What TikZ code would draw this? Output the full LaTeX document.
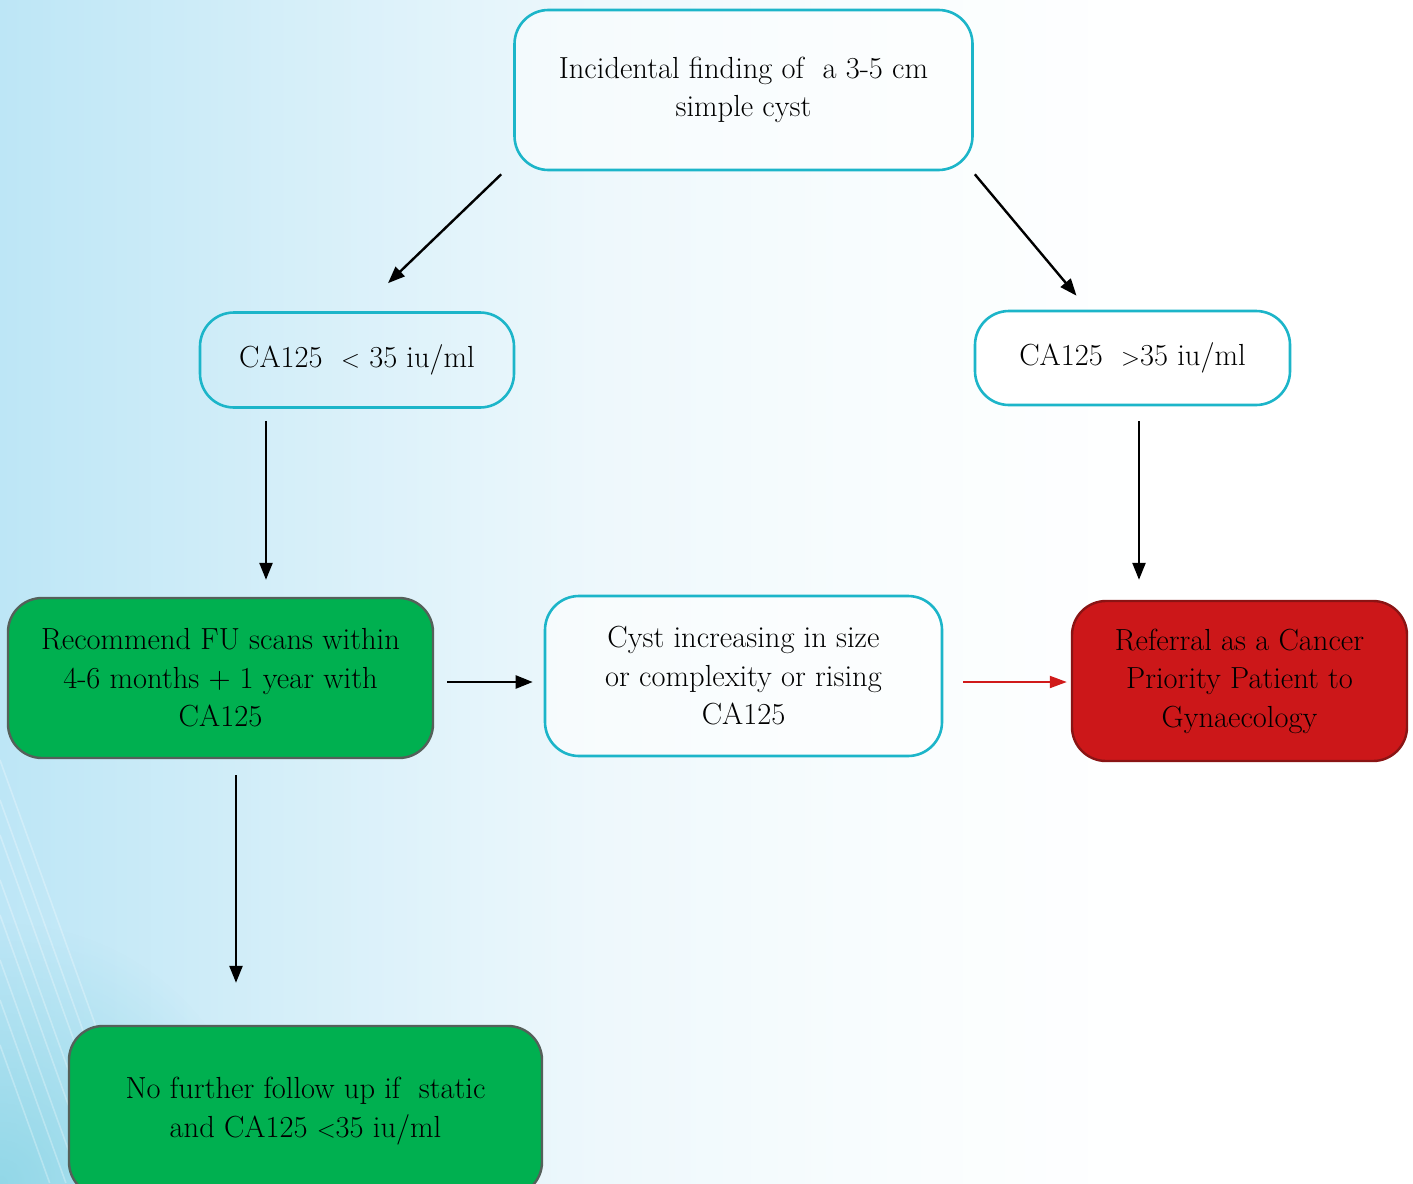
\documentclass[tikz,border=0pt]{standalone}
\usepackage{fontspec}
\usetikzlibrary{arrows.meta,fadings,calc}
\definecolor{cyanb}{HTML}{1CB5C9}
\definecolor{greenf}{HTML}{00B050}
\definecolor{greyb}{HTML}{55605A}
\definecolor{redf}{HTML}{CC1719}
\definecolor{redb}{HTML}{8A1414}
\definecolor{bgA}{HTML}{BDE6F6}
\definecolor{bgB}{HTML}{D6EFF9}
\definecolor{bgD}{HTML}{EEF8FC}
\definecolor{bgE}{HTML}{F9FDFE}
\definecolor{bgC}{HTML}{8ED6E6}
\definecolor{arrred}{HTML}{D01A1A}
\tikzfading[name=softspot, inner color=transparent!0, outer color=transparent!100]
\begin{document}
\begin{tikzpicture}[x=1pt,y=-1pt,
  txt/.style={font=\fontsize{30.5}{38.5}\selectfont, align=center, text=black},
  cbox/.style={txt, draw=cyanb, line width=2.6pt, rounded corners=34pt, minimum width=#1},
  gbox/.style={txt, draw=greyb, fill=greenf, line width=2.4pt, rounded corners=34pt},
  rbox/.style={txt, draw=redb, fill=redf, line width=2.4pt, rounded corners=34pt},
  arr/.style={line width=2.4pt, -{Triangle[length=17pt,width=13pt]}},
  rarr/.style={arr, draw=arrred, -{Triangle[length=17pt,width=12pt]}, line width=2pt}]
\useasboundingbox (0,0) rectangle (1413,1183);
% background
\fill[white] (0,0) rectangle (1413,1183);
\shade[left color=bgA, right color=bgB] (0,0) rectangle (300.5,1183);
\shade[left color=bgB, right color=bgD] (300,0) rectangle (600.5,1183);
\shade[left color=bgD, right color=bgE] (600,0) rectangle (900.5,1183);
\shade[left color=bgE, right color=white] (900,0) rectangle (1150,1183);
\fill[bgC, path fading=softspot, opacity=0.9] (0,1183) circle (260);
\foreach \y in {760,800,835,880,915,960,1000,1045}{
  \draw[white, opacity=0.28, line width=1.6pt] (0,\y) -- ({0.36*(1183-\y)},1183);
}
% nodes
\node[cbox=458pt, minimum height=160pt, fill=white, fill opacity=0.5, text opacity=1] (top) at (743.5,90) {Incidental finding of \ a 3-5 cm\\simple cyst};
\node[cbox=314pt, minimum height=95pt] (low) at (357,360) {CA125 \ $<$ 35 iu/ml};
\node[cbox=315pt, minimum height=94pt, fill=white] (high) at (1132.5,358) {CA125 \ $>$35 iu/ml};
\node[gbox, minimum width=425pt, minimum height=160pt] (rec) at (220.5,678) {Recommend FU scans within\\4-6 months + 1 year with\\CA125};
\node[cbox=397pt, minimum height=160pt, fill=white, fill opacity=0.6, text opacity=1] (cyst) at (743.5,676) {Cyst increasing in size\\or complexity or rising\\CA125};
\node[rbox, minimum width=335pt, minimum height=160pt] (ref) at (1239.5,681) {Referral as a Cancer\\Priority Patient to\\Gynaecology};
\node[gbox, minimum width=473pt, minimum height=170pt] (nofu) at (305.5,1111) {No further follow up if \ static\\and CA125 $<$35 iu/ml};
% connector end points
\coordinate (a1s) at ($(top.south west)+(-12,3)$);
\coordinate (a1e) at ($(low.north)+(31,-28)$);
\coordinate (a2s) at ($(top.south east)+(1,3)$);
\coordinate (a2e) at ($(high.north)+(-56,-14)$);
\coordinate (a3s) at ($(low.south)+(-91,12)$);
\coordinate (a3e) at ($(rec.north)+(45.5,-17)$);
\coordinate (a4s) at ($(high.south)+(6.5,15)$);
\coordinate (a4e) at ($(ref.north)+(-100.5,-20)$);
\coordinate (a5s) at ($(rec.east)+(13,4)$);
\coordinate (a5e) at ($(cyst.west)+(-11,6)$);
\coordinate (a6s) at ($(cyst.east)+(20,6)$);
\coordinate (a6e) at ($(ref.west)+(-4,1)$);
\coordinate (a7s) at ($(rec.south)+(15.5,16)$);
\coordinate (a7e) at ($(nofu.north)+(-69.5,-42)$);
% connectors
\draw[arr] (a1s) -- (a1e);
\draw[arr] (a2s) -- (a2e);
\draw[arr] (a3s) -- (a3e);
\draw[arr] (a4s) -- (a4e);
\draw[arr] (a5s) -- (a5e);
\draw[rarr] (a6s) -- (a6e);
\draw[arr] (a7s) -- (a7e);
\end{tikzpicture}
\end{document}
